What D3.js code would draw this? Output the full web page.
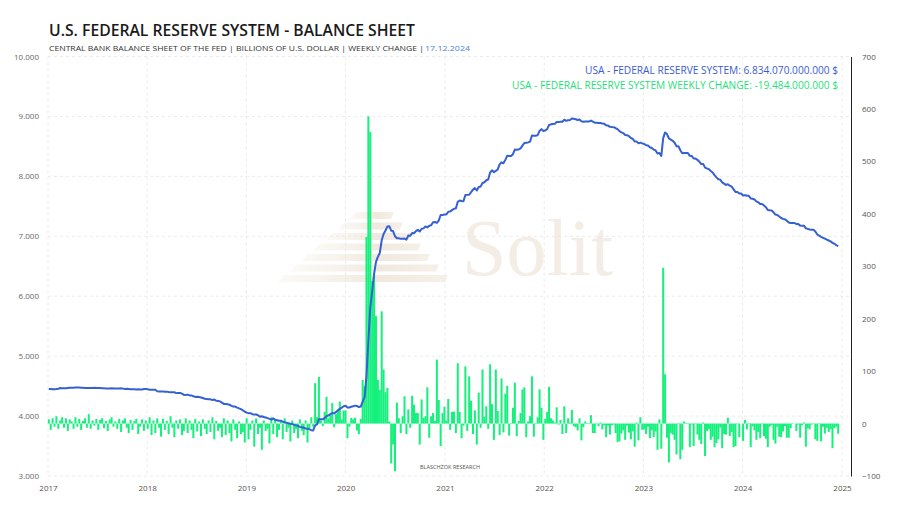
<!DOCTYPE html>
<html><head><meta charset="utf-8">
<script src="https://cdn.jsdelivr.net/npm/d3@7"></script>
<style>html,body{margin:0;padding:0;background:#fff}svg{display:block;font-family:"Open Sans",sans-serif}</style>
</head><body><svg id="c" width="900" height="506"></svg>
<script>
// ---------- DATA (billions of USD, weekly Wednesdays) ----------
const years = [2017,2018,2019,2020,2021,2022,2023,2024];
const balance2017 = [4452,4451,4447,4449,4450,4455,4468,4463,4465,4464,4469,4473,4474,4473,4475,4476,4478,4472,4473,4470,4467,4467,4469,4470,4471,4470,4467,4467,4464,4463,4462,4461,4461,4466,4460,4460,4459,4461,4463,4458,4452,4455,4452,4448,4446,4446,4445,4448,4443,4445,4452,4451];
const balance2018 = [4446,4441,4440,4439,4438,4413,4412,4412,4412,4405,4408,4402,4397,4398,4397,4383,4387,4387,4375,4355,4353,4358,4345,4345,4330,4320,4323,4317,4310,4302,4290,4283,4281,4279,4268,4275,4256,4252,4245,4225,4203,4202,4198,4190,4171,4160,4158,4141,4129,4115,4097,4075];
const balance2019 = [4058,4049,4048,4031,4026,4026,4014,3987,3997,3984,3975,3965,3953,3942,3961,3937,3931,3921,3924,3905,3896,3888,3881,3870,3867,3853,3845,3838,3820,3814,3805,3792,3790,3777,3765,3760,3846,3861,3945,3946,3946,3967,3999,4010,4032,4050,4045,4070,4098,4120,4140,4165];
const balance2020 = [4173,4145,4144,4155,4163,4174,4170,4150,4159,4241,4312,4668,5254,5810,6082,6368,6573,6656,6720,6934,7037,7097,7165,7169,7093,7087,7000,6968,6966,6960,6958,6962,6945,7013,7007,7054,7050,7085,7107,7080,7125,7132,7164,7148,7176,7183,7234,7240,7222,7263,7356,7355,7362];
const balance2021 = [7363,7410,7415,7437,7460,7466,7576,7598,7590,7586,7689,7691,7693,7736,7779,7804,7764,7823,7829,7889,7902,7935,7948,8064,8101,8070,8091,8115,8201,8235,8218,8275,8343,8340,8339,8369,8447,8443,8448,8468,8512,8556,8562,8566,8580,8681,8676,8677,8689,8758,8788,8757];
const balance2022 = [8766,8788,8858,8868,8874,8876,8907,8905,8912,8912,8945,8927,8937,8939,8965,8960,8953,8940,8950,8918,8911,8915,8916,8915,8931,8913,8895,8894,8889,8891,8880,8877,8851,8847,8826,8823,8821,8803,8788,8754,8735,8722,8691,8687,8670,8640,8625,8581,8583,8551,8563,8551];
const balance2023 = [8540,8520,8514,8486,8473,8447,8432,8382,8390,8342,8639,8733,8706,8632,8614,8593,8562,8503,8504,8436,8386,8390,8389,8388,8343,8341,8298,8297,8276,8245,8206,8208,8146,8132,8121,8090,8065,8020,7983,7953,7945,7898,7878,7857,7868,7844,7828,7783,7740,7739,7713,7713];
const balance2024 = [7680,7687,7676,7677,7632,7627,7614,7583,7567,7539,7538,7514,7485,7440,7434,7431,7400,7362,7356,7331,7305,7290,7285,7258,7231,7222,7221,7221,7207,7205,7178,7175,7177,7133,7124,7113,7111,7110,7080,7030,7010,6990,6975,6960,6945,6930,6915,6890,6875,6853,6834];

const change2017 = [8,-12,10,-6,14,-10,6,12,-8,10,-14,8,4,-10,12,-6,9,-12,5,10,-8,18,-10,6,-4,9,-12,7,10,-9,5,-14,8,12,-6,4,-10,9,-16,6,10,-8,-18,7,-12,5,9,-20,-6,8,-14,6];
const change2018 = [-10,12,-22,6,-18,10,-8,-25,9,-12,5,-20,14,-8,-26,6,-10,8,-22,-14,10,-18,6,-12,-28,9,-15,4,-24,8,-10,-20,6,-16,12,-30,5,-14,-8,-26,10,-22,6,-18,-34,8,-12,-28,4,-20,-16,-36];
const change2019 = [10,-30,-12,6,-44,10,-20,-8,-50,6,-14,-10,-38,12,-20,8,-26,-12,6,-30,10,-16,-8,-34,6,-18,-10,-28,8,-14,-22,6,-36,-10,12,-6,77,12,89,6,-5,22,51,10,18,39,-7,18,27,42,8,25];
const change2020 = [25,-28,-6,11,8,11,-13,-20,9,83,71,356,586,556,272,286,205,83,64,214,103,60,68,4,-76,-40,-91,40,10,-18,14,52,-20,27,-8,53,36,20,20,-40,46,11,14,69,-27,14,20,5,122,45,-43,20,32];
const change2021 = [6,47,-12,22,23,-18,115,22,-28,-4,109,-14,90,43,-20,25,-40,59,-8,103,13,33,-10,113,37,-31,103,24,-22,86,-17,57,72,-23,-1,30,78,-24,5,20,65,69,-26,4,14,90,-25,1,12,65,30,-31];
const change2022 = [9,22,70,10,6,2,31,-2,7,-20,33,-18,10,2,26,-5,-7,-13,10,-32,-7,4,1,-1,16,-18,-18,-1,-5,2,-11,-3,-26,-4,-21,-3,-2,-18,-35,-34,-19,-13,-31,-4,-17,-30,-15,-44,2,-32,12,-12];
const change2023 = [-11,-20,-6,-28,-13,-26,-15,-50,8,-48,297,94,-27,-74,-18,-21,-31,-59,1,-68,-50,4,-1,-1,-45,-2,-43,-1,-21,-31,-39,2,-62,-14,-11,-31,-25,-45,-37,-30,-8,-47,-20,-21,11,-24,-16,-45,-43,-1,-26,0];
const change2024 = [-33,7,-11,1,-45,-5,-13,-31,-16,-28,-1,-24,-29,-45,-6,-3,-31,-38,-6,-25,-26,-15,-5,-27,-27,-9,-1,0,-14,-2,-27,-3,2,-44,-9,-11,-2,-1,-30,-33,-1,-34,-6,-19,-8,-16,-11,-47,-9,-6,-19.5];

const leftTicks = [3000,4000,5000,6000,7000,8000,9000,10000];
const rightTicks = [-100,0,100,200,300,400,500,600,700];
const xTickYears = [2017,2018,2019,2020,2021,2022,2023,2024,2025];

const titleText = "U.S. FEDERAL RESERVE SYSTEM - BALANCE SHEET";
const subtitleText = "CENTRAL BANK BALANCE SHEET OF THE FED | BILLIONS OF U.S. DOLLAR | WEEKLY CHANGE | ";
const dateText = "17.12.2024";
const legend1 = "USA - FEDERAL RESERVE SYSTEM: 6.834.070.000.000 $";
const legend2 = "USA - FEDERAL RESERVE SYSTEM WEEKLY CHANGE: -19.484.000.000 $";

// ---------- BUILD ----------
const balanceByYear = [balance2017,balance2018,balance2019,balance2020,balance2021,balance2022,balance2023,balance2024];
const changeByYear = [change2017,change2018,change2019,change2020,change2021,change2022,change2023,change2024];
function weeksOf(y){ return d3.timeWednesday.range(new Date(y,0,1), new Date(y+1,0,1)); }
const balance = [], change = [];
years.forEach((y,i)=>{
  const w = weeksOf(y);
  balanceByYear[i].forEach((v,j)=>{ if(j<w.length) balance.push({d:w[j], v}); });
  changeByYear[i].forEach((v,j)=>{ if(j<w.length) change.push({d:w[j], v}); });
});

const svg = d3.select("#c");
const L = 48, R = 851, T = 56.5, B = 476;
const x = d3.scaleTime().domain([new Date(2017,0,1), new Date(2025,0,1)]).range([L, 842]);
const yL = d3.scaleLinear().domain([3000,10000]).range([B, T]);
const yR = d3.scaleLinear().domain([-100,700]).range([B, T]);
const loc = d3.formatLocale({decimal:",", thousands:".", grouping:[3], currency:["","$"]});
const fmt = loc.format(",");

// watermark logo
const wm = svg.append("g");
const grad = svg.append("defs").append("linearGradient").attr("id","wg").attr("x1","0").attr("x2","1");
grad.append("stop").attr("offset","0").attr("stop-color","#f6f1ea").attr("stop-opacity",0.4);
grad.append("stop").attr("offset","0.6").attr("stop-color","#efe6da").attr("stop-opacity",0.9);
grad.append("stop").attr("offset","1").attr("stop-color","#f3ece3").attr("stop-opacity",0.8);
const logoRows = [0,1,2,3,4,5,6];
logoRows.forEach(i=>{
  const w = 44 + i*21, cx = 372 - i*1.5, yy = 212 + i*10.5;
  wm.append("path")
    .attr("d", `M${cx-w/2+6},${yy} L${cx+w/2},${yy} L${cx+w/2-3},${yy+7} L${cx-w/2},${yy+7} Z`)
    .attr("fill","url(#wg)");
});
wm.append("text").attr("x",462).attr("y",275).attr("font-family","'Liberation Serif','DejaVu Serif',serif")
  .attr("font-size",80).attr("fill","#f3ede5").text("Solit");

// grid
const grid = svg.append("g").attr("stroke","#e6e6e6").attr("stroke-dasharray","3,3").attr("stroke-width",0.8);
leftTicks.forEach(t=>grid.append("line").attr("x1",L).attr("x2",R).attr("y1",yL(t)).attr("y2",yL(t)));
xTickYears.forEach(yr=>grid.append("line").attr("x1",x(new Date(yr,0,1))).attr("x2",x(new Date(yr,0,1))).attr("y1",T).attr("y2",B));

// bars
svg.append("g").selectAll("rect").data(change).join("rect")
  .attr("x", d=>x(d.d)-1).attr("width",2)
  .attr("y", d=>Math.min(yR(d.v), yR(0)))
  .attr("height", d=>Math.abs(yR(d.v)-yR(0)))
  .attr("fill","#13f07b");

// line
svg.append("path").datum(balance)
  .attr("d", d3.line().x(d=>x(d.d)).y(d=>yL(d.v)))
  .attr("fill","none").attr("stroke","#3560d4").attr("stroke-width",2).attr("stroke-linejoin","round");

// axes
const axL = svg.append("g").attr("transform",`translate(${L-6},0)`)
  .call(d3.axisLeft(yL).tickValues(leftTicks).tickFormat(fmt).tickSize(0));
axL.select(".domain").remove();
axL.selectAll("text").attr("font-family","'Open Sans',sans-serif").attr("font-size",8).attr("fill","#666");

const axR = svg.append("g").attr("transform",`translate(${R},0)`)
  .call(d3.axisRight(yR).tickValues(rightTicks).tickFormat(d3.format("d")).tickSize(0).tickPadding(11));
axR.select(".domain").attr("stroke","#222").attr("stroke-width",1);
axR.selectAll("text").attr("font-family","'Open Sans',sans-serif").attr("font-size",8).attr("fill","#555");

const axB = svg.append("g").attr("transform",`translate(0,${B+4})`)
  .call(d3.axisBottom(x).tickValues(xTickYears.map(y=>new Date(y,0,1))).tickFormat(d3.timeFormat("%Y")).tickSize(0).tickPadding(5));
axB.select(".domain").remove();
axB.selectAll("text").attr("font-family","'Open Sans',sans-serif").attr("font-size",8).attr("fill","#555");

// titles
svg.append("text").attr("x",49).attr("y",36).attr("font-size",15.5).attr("font-weight",600).attr("fill","#1a1a1a")
  .attr("textLength",366).attr("lengthAdjust","spacingAndGlyphs").text(titleText);
svg.append("text").attr("x",49).attr("y",50.5).attr("font-size",7.5).attr("fill","#333")
  .attr("textLength",375).attr("lengthAdjust","spacingAndGlyphs").text(subtitleText);
svg.append("text").attr("x",425).attr("y",50.5).attr("font-size",7.5).attr("fill","#4a82d8")
  .attr("textLength",45).attr("lengthAdjust","spacingAndGlyphs").text(dateText);

// legend
svg.append("text").attr("x",838).attr("y",74).attr("text-anchor","end").attr("font-size",10).attr("fill","#3a5bd2")
  .attr("textLength",253).attr("lengthAdjust","spacingAndGlyphs").text(legend1);
svg.append("text").attr("x",838).attr("y",89).attr("text-anchor","end").attr("font-size",10).attr("fill","#1fe07a")
  .attr("textLength",326).attr("lengthAdjust","spacingAndGlyphs").text(legend2);

// credit
svg.append("text").attr("x",420).attr("y",469).attr("font-size",5).attr("fill","#555")
  .attr("textLength",60).attr("lengthAdjust","spacingAndGlyphs").text("BLASCHZOK RESEARCH");
</script></body></html>
